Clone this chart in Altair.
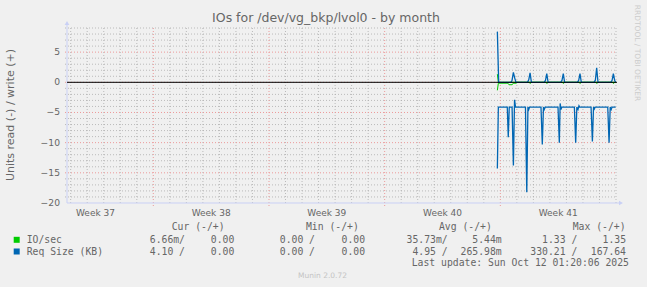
import altair as alt
import pandas as pd

# ---------------- data (x = days since Sun 2025-09-14 00:00) ----------------
X_DOMAIN = [-5.223, 28.06]
Y_DOMAIN = [-20, 9]
W, H = 550, 175

week_labels = ["Week 37", "Week 38", "Week 39", "Week 40", "Week 41"]
week_centers = [-3.5, 3.5, 10.5, 17.5, 24.5]
major_days = [0, 7, 14, 21]
minor_days = [-5, -4, -3, -2, -1, 1, 2, 3, 4, 5, 6, 8, 9, 10, 11, 12, 13,
              15, 16, 17, 18, 19, 20, 22, 23, 24, 25, 26, 27, 28]
y_tick_values = [-20, -15, -10, -5, 0, 5]
y_major_grid = [-15, -10, -5, 0, 5]
y_minor_grid = [-19, -18, -17, -16, -14, -13, -12, -11, -9, -8, -7, -6,
                -4, -3, -2, -1, 1, 2, 3, 4, 6, 7, 8, 9]

# IO/sec (read drawn negative, write positive)
io_read_t = [20.82, 20.88, 21.46, 21.52, 21.72, 21.78, 21.96, 22.02, 22.74, 22.78,
             22.84, 22.88, 23.75, 23.79, 23.85, 23.89, 24.75, 24.79, 24.85, 24.89,
             25.76, 25.80, 25.86, 25.90, 26.77, 26.81, 26.87, 26.91, 27.78, 27.82,
             27.88, 27.92, 27.98]
io_read_v = [1.33, 0.15, 0.15, 0.4, 0.4, 0.15, 0.15, 0.0, 0.0, 0.15,
             0.15, 0.0, 0.0, 0.15, 0.15, 0.0, 0.0, 0.15, 0.15, 0.0,
             0.0, 0.15, 0.15, 0.0, 0.0, 0.15, 0.15, 0.0, 0.0, 0.15,
             0.15, 0.0, 0.0]
io_write_t = [20.82, 20.88, 27.98]
io_write_v = [1.35, 0.0, 0.0]

# Req Size (KB)
req_read_t = [20.82, 20.88, 21.42, 21.48, 21.54, 21.71, 21.79, 21.86, 21.92, 22.52,
              22.60, 22.67, 22.72, 22.77, 23.46, 23.54, 23.61, 23.66, 23.72, 24.49,
              24.57, 24.62, 24.67, 24.72, 25.48, 25.56, 25.63, 25.70, 25.76, 25.80,
              26.49, 26.57, 26.64, 26.69, 26.74, 27.50, 27.58, 27.65, 27.71, 27.76,
              27.98]
req_read_v = [14.3, 4.1, 4.1, 9.1, 4.1, 4.1, 13.8, 2.9, 4.1, 4.1,
              18.2, 4.1, 4.5, 4.1, 4.1, 10.3, 4.1, 4.5, 4.1, 4.1,
              10.0, 3.5, 4.5, 4.1, 4.1, 10.0, 4.1, 4.5, 3.9, 4.1,
              4.1, 9.8, 4.1, 4.4, 4.1, 4.1, 10.0, 4.1, 4.5, 4.1,
              4.1]
req_write_t = [20.82, 20.90, 21.64, 21.71, 21.79, 21.87, 21.95, 22.64, 22.72, 22.80,
               22.88, 23.65, 23.73, 23.81, 23.89, 24.65, 24.73, 24.81, 24.89, 25.66,
               25.74, 25.82, 25.90, 26.67, 26.75, 26.83, 26.91, 27.68, 27.76, 27.84,
               27.92, 27.98]
req_write_v = [8.4, 0.0, 0.0, 0.35, 1.65, 0.7, 0.0, 0.0, 0.4, 1.55,
               0.0, 0.0, 0.3, 1.45, 0.0, 0.0, 0.3, 1.45, 0.0, 0.0,
               0.3, 1.45, 0.0, 0.0, 0.35, 2.4, 0.0, 0.0, 0.3, 1.45,
               0.3, 0.0]

# legend table
legend_names = ["IO/sec", "Req Size (KB)"]
legend_colors = ["#00cc00", "#0066b3"]
cur_read = ["6.66m/", "4.10 /"]
cur_write = ["0.00", "0.00"]
min_read = ["0.00 /", "0.00 /"]
min_write = ["0.00", "0.00"]
avg_read = ["35.73m/", "4.95 /"]
avg_write = ["5.44m", "265.98m"]
max_read = ["1.33 /", "330.21 /"]
max_write = ["1.35", "167.64"]
headers = ["Cur (-/+)", "Min (-/+)", "Avg (-/+)", "Max (-/+)"]
last_update = "Last update: Sun Oct 12 01:20:06 2025"
title_text = "IOs for /dev/vg_bkp/lvol0 - by month"
y_title = "Units read (-) / write (+)"

# ---------------- styling ----------------
OX, OY = 67, 28  # plot origin in page pixels
FONT = "DejaVu Sans"
MONO = "DejaVu Sans Mono"
TXT = "#666666"
AXIS_C = "#c9d0f5"
GRID_C = "#a8a8a8"
MGRID_C = "#ec9a9a"

xs = alt.Scale(domain=X_DOMAIN, nice=False, zero=False)
ys = alt.Scale(domain=Y_DOMAIN, nice=False, zero=False)
dummy = pd.DataFrame({"a": [0]})


def px(x):
    return x - OX


def py(y):
    return y - OY


layers = []

# gridlines
layers.append(alt.Chart(pd.DataFrame({"d": minor_days})).mark_rule(
    color=GRID_C, strokeDash=[1, 2], strokeWidth=1, opacity=0.75).encode(
    x=alt.X("d:Q", scale=xs, axis=None), y=alt.value(0), y2=alt.value(H + 2)))
layers.append(alt.Chart(pd.DataFrame({"v": y_minor_grid})).mark_rule(
    color=GRID_C, strokeDash=[1, 2], strokeWidth=1, opacity=0.75).encode(
    y=alt.Y("v:Q", scale=ys, axis=None), x=alt.value(-2), x2=alt.value(W)))
layers.append(alt.Chart(pd.DataFrame({"d": major_days})).mark_rule(
    color=MGRID_C, strokeDash=[1, 2], strokeWidth=1).encode(
    x=alt.X("d:Q", scale=xs, axis=None), y=alt.value(0), y2=alt.value(H + 3)))
layers.append(alt.Chart(pd.DataFrame({"v": y_major_grid})).mark_rule(
    color=MGRID_C, strokeDash=[1, 2], strokeWidth=1).encode(
    y=alt.Y("v:Q", scale=ys, axis=None), x=alt.value(-2), x2=alt.value(W)))

# axis lines + arrows
layers.append(alt.Chart(dummy).mark_rule(color=AXIS_C, strokeWidth=1).encode(
    x=alt.value(0), y=alt.value(H), y2=alt.value(-4)))
layers.append(alt.Chart(dummy).mark_rule(color=AXIS_C, strokeWidth=1).encode(
    y=alt.value(H), x=alt.value(0), x2=alt.value(W + 3)))
layers.append(alt.Chart(dummy).mark_point(shape="triangle-up", filled=True, size=22,
                                          color=AXIS_C, opacity=1).encode(
    x=alt.value(0), y=alt.value(-5)))
layers.append(alt.Chart(dummy).mark_point(shape="triangle-right", filled=True, size=22,
                                          color=AXIS_C, opacity=1).encode(
    x=alt.value(W + 4), y=alt.value(H)))


def line(t, v, sign, color, width=1.0):
    df = pd.DataFrame({"t": t, "v": [sign * x for x in v]})
    return alt.Chart(df).mark_line(color=color, strokeWidth=width, interpolate="linear").encode(
        x=alt.X("t:Q", scale=xs, axis=None), y=alt.Y("v:Q", scale=ys, axis=None))


layers.append(line(io_read_t, io_read_v, -1, legend_colors[0]))
layers.append(line(io_write_t, io_write_v, 1, legend_colors[0]))
layers.append(line(req_read_t, req_read_v, -1, legend_colors[1], 1.3))
layers.append(line(req_write_t, req_write_v, 1, legend_colors[1], 1.3))

# zero line
layers.append(alt.Chart(pd.DataFrame({"z": [0]})).mark_rule(color="#000000", strokeWidth=1).encode(
    y=alt.Y("z:Q", scale=ys, axis=None), x=alt.value(0), x2=alt.value(W)))

# y tick labels
layers.append(alt.Chart(pd.DataFrame({"v": y_tick_values})).mark_text(
    align="right", baseline="middle", x=-7, font=FONT, fontSize=9.2, color=TXT).encode(
    y=alt.Y("v:Q", scale=ys, axis=None), text=alt.Text("v:Q", format="d")))

# week labels
layers.append(alt.Chart(pd.DataFrame({"d": week_centers, "lab": week_labels})).mark_text(
    align="center", baseline="middle", y=py(212.8), font=FONT, fontSize=9, color=TXT).encode(
    x=alt.X("d:Q", scale=xs, axis=None), text="lab:N"))


def txt(s, x, y, align="left", font=FONT, size=9.75, color=TXT, angle=0):
    return alt.Chart(dummy).mark_text(text=s, x=px(x), y=py(y), align=align, baseline="middle",
                                      font=font, fontSize=size, color=color, angle=angle)


layers.append(txt(title_text, 326, 18, align="center", size=12.5))
layers.append(txt(y_title, 10.5, 115, align="center", size=11, angle=270))
layers.append(txt("RRDTOOL / TOBI OETIKER", 637, 53, align="center", size=7.5,
                  color="#cccccc", angle=90))

header_x = [171.7, 306, 439, 572.7]
for h, hx in zip(headers, header_x):
    layers.append(txt(h, hx, 227, font=MONO))

row_y = [239.8, 251.5]
col_right = [185, 234.3, 315, 365, 447.7, 501.7, 577.3, 626]
for i in range(2):
    y = row_y[i]
    layers.append(alt.Chart(dummy).mark_square(size=36, color=legend_colors[i], opacity=1,
                                               x=px(16.7), y=py(y)))
    layers.append(txt(legend_names[i], 26.7, y, font=MONO))
    cells = [cur_read[i], cur_write[i], min_read[i], min_write[i],
             avg_read[i], avg_write[i], max_read[i], max_write[i]]
    for c, cx in zip(cells, col_right):
        layers.append(txt(c, cx, y, align="right", font=MONO))

layers.append(txt(last_update, 411.7, 263.3, font=MONO))
layers.append(txt("Munin 2.0.72", 322.5, 276, align="center", size=7.5, color="#c4c4c4"))

chart = alt.layer(*layers).properties(
    width=W, height=H,
    padding={"left": OX, "top": OY, "right": 647 - OX - W, "bottom": 287 - OY - H},
    autosize=alt.AutoSizeParams(type="none"),
    background="#f0f0f0",
).configure_view(fill="#ffffff", strokeWidth=0)

chart.save("out.html", embed_options={"renderer": "svg", "actions": False})
